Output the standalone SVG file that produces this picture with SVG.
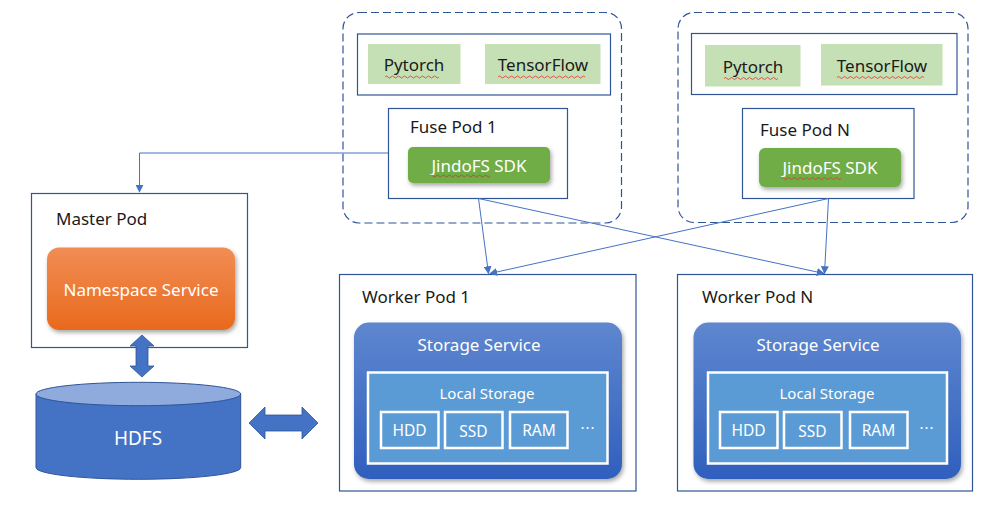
<svg xmlns="http://www.w3.org/2000/svg" width="1000" height="515" viewBox="0 0 1000 515">
<defs>
<style>
.box{fill:#fff;stroke:#2F5597;stroke-width:1.2}
.dash{fill:none;stroke:#2F5597;stroke-width:1.2;stroke-dasharray:8 4}
.fw{fill:#C5E0B4}
.t{font-family:"Noto Sans","Open Sans",sans-serif;font-size:17px;fill:#1a1a1a}
.tw{font-family:"Noto Sans","Open Sans",sans-serif;fill:#fff}
.mid{text-anchor:middle}
.conn{fill:none;stroke:#4472C4;stroke-width:1}
.sq{fill:none;stroke:#E03030;stroke-width:0.8}
.ls{fill:#5B9BD5;stroke:#fff;stroke-width:2.5}
.cell{fill:none;stroke:#fff;stroke-width:2.5}
.dbl{fill:#4472C4;stroke:#2F5597;stroke-width:0.8}
</style>
<linearGradient id="gOr" x1="0" y1="0" x2="0" y2="1">
<stop offset="0" stop-color="#F18D55"/>
<stop offset="1" stop-color="#E86A1C"/>
</linearGradient>
<linearGradient id="gBl" x1="0" y1="0" x2="0" y2="1">
<stop offset="0" stop-color="#5F87CF"/>
<stop offset="1" stop-color="#2F5FBD"/>
</linearGradient>
<filter id="sh" x="-10%" y="-10%" width="125%" height="135%">
<feDropShadow dx="1.5" dy="2.5" stdDeviation="2" flood-color="#000" flood-opacity="0.35"/>
</filter>
<marker id="ah" viewBox="0 0 10 10" refX="9" refY="5" markerWidth="8" markerHeight="8" orient="auto" markerUnits="userSpaceOnUse">
<path d="M0,0 L10,5 L0,10 Z" fill="#4472C4"/>
</marker>
</defs>

<g id="fuse-group-1">
<rect class="dash" x="343" y="12.5" width="278.5" height="210.5" rx="16"/>
<rect class="box" x="357.5" y="34" width="253" height="61"/>
<rect class="fw" x="368" y="44" width="92.5" height="40"/>
<text class="t mid" x="414" y="71">Pytorch</text>
<path class="sq" d="M385,77 q1.5,-2 3,0 t3,0 t3,0 t3,0 t3,0 t3,0 t3,0 t3,0 t3,0 t3,0 t3,0 t3,0 t3,0 t3,0 t3,0 t3,0 t3,0 t3,0"/>
<rect class="fw" x="485" y="44" width="115.5" height="40"/>
<text class="t mid" x="543" y="71">TensorFlow</text>
<path class="sq" d="M498,77 q1.5,-2 3,0 t3,0 t3,0 t3,0 t3,0 t3,0 t3,0 t3,0 t3,0 t3,0 t3,0 t3,0 t3,0 t3,0 t3,0 t3,0 t3,0 t3,0 t3,0 t3,0 t3,0 t3,0 t3,0 t3,0 t3,0 t3,0 t3,0 t3,0 t3,0"/>
</g>
<g id="fuse-pod-1">
<rect class="box" x="388.5" y="108.5" width="179" height="90"/>
<text class="t" x="410" y="133">Fuse Pod 1</text>
<rect x="408" y="147" width="142" height="36" rx="5" fill="#70AD47" filter="url(#sh)"/>
<text class="tw mid" x="479" y="171.5" font-size="17">JindoFS SDK</text>
<path class="sq" d="M430,176 q1.5,-2 3,0 t3,0 t3,0 t3,0 t3,0 t3,0 t3,0 t3,0 t3,0 t3,0 t3,0 t3,0 t3,0 t3,0 t3,0 t3,0 t3,0 t3,0 t3,0 t3,0"/>
</g>

<g id="fuse-group-n">
<rect class="dash" x="678" y="12.5" width="290" height="210" rx="16"/>
<rect class="box" x="691.5" y="33.5" width="265.5" height="61"/>
<rect class="fw" x="705" y="45" width="95.5" height="41.5"/>
<text class="t mid" x="753" y="72.5">Pytorch</text>
<path class="sq" d="M724,78.5 q1.5,-2 3,0 t3,0 t3,0 t3,0 t3,0 t3,0 t3,0 t3,0 t3,0 t3,0 t3,0 t3,0 t3,0 t3,0 t3,0 t3,0 t3,0 t3,0"/>
<rect class="fw" x="821" y="44" width="121.5" height="41.5"/>
<text class="t mid" x="882" y="71.5">TensorFlow</text>
<path class="sq" d="M837,77.5 q1.5,-2 3,0 t3,0 t3,0 t3,0 t3,0 t3,0 t3,0 t3,0 t3,0 t3,0 t3,0 t3,0 t3,0 t3,0 t3,0 t3,0 t3,0 t3,0 t3,0 t3,0 t3,0 t3,0 t3,0 t3,0 t3,0 t3,0 t3,0 t3,0 t3,0"/>
</g>
<g id="fuse-pod-n">
<rect class="box" x="742.5" y="108.5" width="171.5" height="90"/>
<text class="t" x="760" y="136">Fuse Pod N</text>
<rect x="759" y="148" width="142" height="39" rx="6" fill="#70AD47" filter="url(#sh)"/>
<text class="tw mid" x="830" y="174" font-size="17">JindoFS SDK</text>
<path class="sq" d="M781,178.5 q1.5,-2 3,0 t3,0 t3,0 t3,0 t3,0 t3,0 t3,0 t3,0 t3,0 t3,0 t3,0 t3,0 t3,0 t3,0 t3,0 t3,0 t3,0 t3,0 t3,0 t3,0"/>
</g>

<g id="master-pod">
<rect class="box" x="31.5" y="193.5" width="216" height="154"/>
<text class="t" x="56" y="225">Master Pod</text>
<rect x="47" y="247.5" width="188" height="82.5" rx="12" fill="url(#gOr)" filter="url(#sh)"/>
<text class="tw mid" x="141" y="296" font-size="17">Namespace Service</text>
</g>

<g id="hdfs">
<path d="M36,394 V467.6 A102.35,11.7 0 0 0 240.7,467.6 V394 Z" fill="#4472C4" stroke="#2F5597" stroke-width="1"/>
<ellipse cx="138.35" cy="394" rx="102.35" ry="11.7" fill="#8FAADC" stroke="#2F5597" stroke-width="1"/>
<text class="tw mid" x="138" y="445" font-size="19">HDFS</text>
</g>

<g id="worker-pod-1">
<rect class="box" x="339.5" y="274.5" width="296.5" height="216.5"/>
<text class="t" x="362" y="303">Worker Pod 1</text>
<rect x="354" y="322.5" width="268" height="156.5" rx="15" fill="url(#gBl)" filter="url(#sh)"/>
<text class="tw mid" x="479" y="351" font-size="17">Storage Service</text>
<rect class="ls" x="368" y="372.5" width="239.5" height="91"/>
<text class="tw mid" x="487" y="398.5" font-size="15">Local Storage</text>
<rect class="cell" x="381" y="412" width="57.5" height="36"/>
<text class="tw mid" x="409.5" y="436" font-size="15.5">HDD</text>
<rect class="cell" x="445" y="412" width="57.5" height="36"/>
<text class="tw mid" x="473.5" y="437" font-size="15.5">SSD</text>
<rect class="cell" x="510" y="412" width="57.5" height="36"/>
<text class="tw mid" x="539" y="436" font-size="15.5">RAM</text>
<text class="tw mid" x="588" y="433" font-size="15" letter-spacing="1">···</text>
</g>

<g id="worker-pod-n">
<rect class="box" x="677.5" y="274.5" width="295" height="216.5"/>
<text class="t" x="702" y="303">Worker Pod N</text>
<rect x="693.5" y="322.5" width="267.5" height="156.5" rx="15" fill="url(#gBl)" filter="url(#sh)"/>
<text class="tw mid" x="818" y="351" font-size="17">Storage Service</text>
<rect class="ls" x="708" y="372.5" width="239" height="91"/>
<text class="tw mid" x="827" y="398.5" font-size="15">Local Storage</text>
<rect class="cell" x="720" y="412" width="57.5" height="36"/>
<text class="tw mid" x="748.5" y="436" font-size="15.5">HDD</text>
<rect class="cell" x="784" y="412" width="57.5" height="36"/>
<text class="tw mid" x="812.5" y="437" font-size="15.5">SSD</text>
<rect class="cell" x="850" y="412" width="57.5" height="36"/>
<text class="tw mid" x="878.5" y="436" font-size="15.5">RAM</text>
<text class="tw mid" x="927" y="433" font-size="15" letter-spacing="1">···</text>
</g>

<g id="connectors">
<path class="conn" d="M388,153 H139.5 V192" marker-end="url(#ah)"/>
<path class="conn" d="M478.5,198.5 L488.5,273.5" marker-end="url(#ah)"/>
<path class="conn" d="M478.5,198.5 L824,273.5" marker-end="url(#ah)"/>
<path class="conn" d="M828.5,198.5 L824.5,273.5" marker-end="url(#ah)"/>
<path class="conn" d="M828.5,198.5 L490,273.5" marker-end="url(#ah)"/>
<polygon id="arrow-master-hdfs" class="dbl" points="142,335 154,346 148,346 148,366 154,366 142,377 130,366 136,366 136,346 130,346"/>
<polygon id="arrow-hdfs-worker" class="dbl" points="249,423 265,407 265,415 302,415 302,407 318,423 302,439 302,431 265,431 265,439"/>
</g>
</svg>
